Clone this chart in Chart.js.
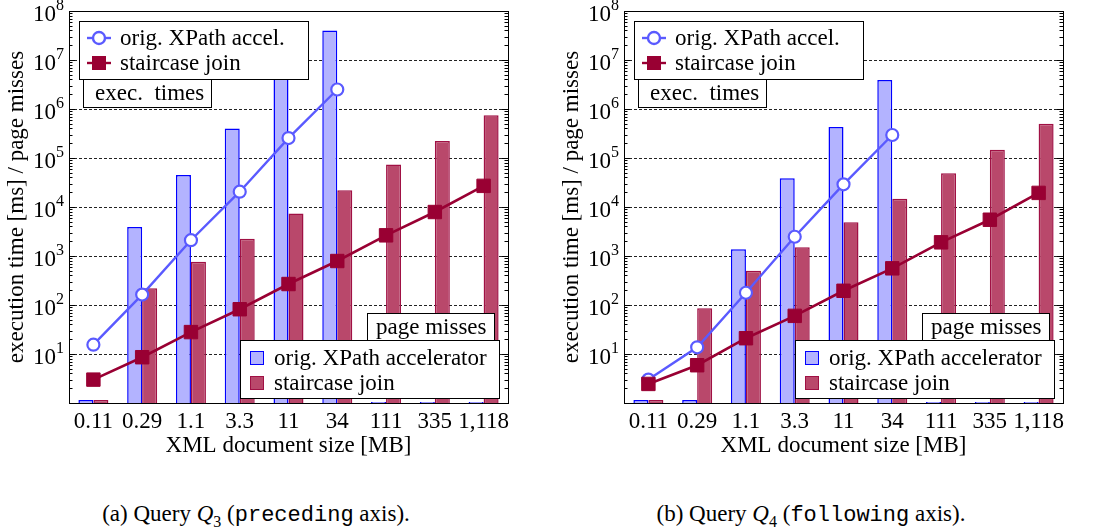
<!DOCTYPE html>
<html>
<head>
<meta charset="utf-8">
<script src="https://cdn.jsdelivr.net/npm/chart.js@4.4.1/dist/chart.umd.min.js"></script>
<style>
  body { margin: 0; background: #fff; }
  #wrap { position: relative; width: 1100px; height: 527px; overflow: hidden; background: #fff; }
  canvas { position: absolute; top: 0; }
  .caption { position: absolute; top: 501px; font: 23px "Liberation Serif", serif; color: #000; white-space: nowrap; transform: translateX(-50%); }
  .caption sub { font-size: 16px; }
  .tt { font-family: "Liberation Mono", monospace; font-size: 22px; }
</style>
</head>
<body>
<div id="wrap">
  <canvas id="chartQ3" width="550" height="460" style="left:0"></canvas>
  <canvas id="chartQ4" width="545" height="460" style="left:555px"></canvas>
  <div class="caption" style="left:256px">(a) Query <i>Q</i><sub>3</sub> (<span class="tt">preceding</span> axis).</div>
  <div class="caption" style="left:811px">(b) Query <i>Q</i><sub>4</sub> (<span class="tt">following</span> axis).</div>
</div>
<script>
// XML document sizes [MB]
const sizes = ["0.11", "0.29", "1.1", "3.3", "11", "34", "111", "335", "1,118"];
const gridDecades = [1e1, 1e2, 1e3, 1e4, 1e5, 1e6, 1e7];
const labelExponents = [1, 2, 3, 4, 5, 6, 7, 8];

// (a) Q3, preceding axis
const q3XpathPages = [1.15, 3900, 45000, 400000, 4.4e6, 4.0e7, 1.05, 1.05, 1.05];
const q3StairPages = [1.15, 220, 760, 2240, 7400, 22000, 74000, 222000, 745000];
const q3XpathTime = [15.5, 163, 2100, 20500, 255000, 2.5e6, null, null, null];
const q3StairTime = [3, 8.6, 28, 82, 268, 790, 2640, 7900, 27000];

// (b) Q4, following axis
const q4XpathPages = [1.15, 1.15, 1370, 38600, 430000, 3.9e6, 1.05, 1.05, 1.05];
const q4StairPages = [1.15, 86, 500, 1500, 4900, 14800, 49000, 148000, 500000];
const q4XpathTime = [3, 13.7, 178, 2470, 29000, 295000, null, null, null];
const q4StairTime = [2.45, 5.9, 21, 60, 195, 560, 1900, 5500, 19400];

const SERIF = '"Liberation Serif", serif';
const FS = 23;
const blueLine = "#5a5aff";
const blueBarFill = "#b3b3ff";
const blueBarEdge = "#0000ff";
const redLine = "#990033";
const redBarFill = "#b9486b";
const redBarEdge = "#a01044";

function box(ctx, x0, y0, x1, y1) {
    ctx.fillStyle = "#fff";
    ctx.fillRect(x0, y0, x1 - x0, y1 - y0);
    ctx.strokeRect(x0 + 0.5, y0 + 0.5, x1 - x0, y1 - y0);
}

// frame, log minor ticks, 10^n labels and the boxed legends
const paperFrame = {
    id: "paperFrame",
    afterDatasetsDraw(chart) {
        const { ctx, chartArea: a, scales: { y } } = chart;
        const L = Math.round(a.left), R = Math.round(a.right);
        const T = Math.round(a.top), B = Math.round(a.bottom);
        ctx.save();
        ctx.strokeStyle = "#000";
        ctx.lineWidth = 1;

        ctx.beginPath();
        for (let d = 0; d < 8; d++) {
            for (let m = 1; m <= 9; m++) {
                if (d === 0 && m === 1) continue;
                const py = Math.round(y.getPixelForValue(m * Math.pow(10, d))) + 0.5;
                const len = m === 1 ? 6 : 3.5;
                ctx.moveTo(L, py); ctx.lineTo(L + len, py);
                ctx.moveTo(R, py); ctx.lineTo(R - len, py);
            }
        }
        ctx.stroke();
        ctx.strokeRect(L + 0.5, T + 0.5, R - L, B - T);

        // y tick labels
        ctx.fillStyle = "#000";
        ctx.textBaseline = "alphabetic";
        labelExponents.forEach(e => {
            const gy = y.getPixelForValue(Math.pow(10, e));
            ctx.font = "16px " + SERIF;
            const ws = ctx.measureText(String(e)).width;
            ctx.textAlign = "left";
            ctx.fillText(String(e), L - 5 - ws, gy - 1);
            ctx.font = FS + "px " + SERIF;
            ctx.textAlign = "right";
            ctx.fillText("10", L - 5 - ws, gy + 10);
        });

        // y title
        ctx.save();
        ctx.translate(17, (T + B) / 2);
        ctx.rotate(-Math.PI / 2);
        ctx.textAlign = "center";
        ctx.textBaseline = "middle";
        ctx.font = FS + "px " + SERIF;
        ctx.fillText("execution time [ms] / page misses", 0, 0);
        ctx.restore();

        ctx.font = FS + "px " + SERIF;
        ctx.textAlign = "left";
        ctx.textBaseline = "middle";

        // exec. times legend
        box(ctx, L + 14, T + 68, L + 142, T + 96);
        box(ctx, L + 10, T + 10, L + 239, T + 68);
        ctx.fillStyle = "#000";
        ctx.fillText("exec.  times", L + 26, T + 83);
        const r1 = T + 27, r2 = T + 52;
        ctx.lineWidth = 2.4;
        ctx.strokeStyle = blueLine;
        ctx.beginPath(); ctx.moveTo(L + 18, r1); ctx.lineTo(L + 42, r1); ctx.stroke();
        ctx.fillStyle = "#fff";
        ctx.beginPath(); ctx.arc(L + 30, r1, 6, 0, Math.PI * 2); ctx.fill(); ctx.stroke();
        ctx.strokeStyle = redLine;
        ctx.beginPath(); ctx.moveTo(L + 18, r2); ctx.lineTo(L + 42, r2); ctx.stroke();
        ctx.fillStyle = redLine;
        ctx.fillRect(L + 23, r2 - 7, 14, 14);
        ctx.fillStyle = "#000";
        ctx.fillText("orig. XPath accel.", L + 51, r1 + 1);
        ctx.fillText("staircase join", L + 51, r2 + 1);

        // page misses legend
        ctx.lineWidth = 1;
        ctx.strokeStyle = "#000";
        box(ctx, R - 141, B - 90, R - 14, B - 63);
        box(ctx, R - 268, B - 63, R - 9, B - 5);
        ctx.fillStyle = "#000";
        ctx.fillText("page misses", R - 132, B - 75);
        const s1 = B - 45, s2 = B - 20;
        ctx.fillStyle = blueBarFill; ctx.strokeStyle = blueBarEdge;
        ctx.fillRect(R - 258, s1 - 7, 14, 14); ctx.strokeRect(R - 257.5, s1 - 6.5, 13, 13);
        ctx.fillStyle = redBarFill; ctx.strokeStyle = redBarEdge;
        ctx.fillRect(R - 258, s2 - 7, 14, 14); ctx.strokeRect(R - 257.5, s2 - 6.5, 13, 13);
        ctx.fillStyle = "#000";
        ctx.fillText("orig. XPath accelerator", R - 234, s1 + 1);
        ctx.fillText("staircase join", R - 234, s2 + 1);
        ctx.restore();
    }
};

function makeChart(id, xpathPages, stairPages, xpathTime, stairTime, padRight) {
    return new Chart(document.getElementById(id), {
        type: "bar",
        data: {
            labels: sizes,
            datasets: [
                {
                    type: "line",
                    label: "staircase join",
                    data: stairTime,
                    borderColor: redLine,
                    backgroundColor: redLine,
                    borderWidth: 2.6,
                    pointStyle: "rect",
                    pointRadius: 9.5,
                    pointBorderWidth: 1,
                    tension: 0,
                    order: 0
                },
                {
                    type: "line",
                    label: "orig. XPath accel.",
                    data: xpathTime,
                    borderColor: blueLine,
                    backgroundColor: "#fff",
                    borderWidth: 2.4,
                    pointRadius: 6,
                    pointBorderWidth: 2.2,
                    tension: 0,
                    order: 1
                },
                {
                    label: "orig. XPath accelerator",
                    data: xpathPages,
                    backgroundColor: blueBarFill,
                    borderColor: blueBarEdge,
                    borderWidth: 1.5,
                    categoryPercentage: 0.615,
                    barPercentage: 1,
                    order: 2
                },
                {
                    label: "staircase join",
                    data: stairPages,
                    backgroundColor: redBarFill,
                    borderColor: redBarEdge,
                    borderWidth: 1.5,
                    categoryPercentage: 0.615,
                    barPercentage: 1,
                    order: 2
                }
            ]
        },
        options: {
            responsive: false,
            animation: false,
            layout: { padding: { top: 11, right: padRight, left: 0, bottom: 0 } },
            plugins: { legend: { display: false }, tooltip: { enabled: false } },
            scales: {
                x: {
                    grid: { display: false },
                    border: { display: false },
                    ticks: {
                        color: "#000",
                        font: { family: SERIF, size: FS },
                        maxRotation: 0,
                        autoSkip: false,
                        padding: -3
                    },
                    title: {
                        display: true,
                        text: "XML document size [MB]",
                        color: "#000",
                        font: { family: SERIF, size: FS },
                        padding: 0
                    },
                    afterFit: s => { s.height = 57; }
                },
                y: {
                    type: "logarithmic",
                    min: 1,
                    max: 1e8,
                    ticks: { display: false },
                    grid: { color: "#222", lineWidth: 1, drawTicks: false },
                    border: { display: false, dash: [3, 2] },
                    afterBuildTicks: s => { s.ticks = gridDecades.map(v => ({ value: v })); },
                    afterFit: s => { s.width = 69; }
                }
            }
        },
        plugins: [paperFrame]
    });
}

makeChart("chartQ3", q3XpathPages, q3StairPages, q3XpathTime, q3StairTime, 42);
makeChart("chartQ4", q4XpathPages, q4StairPages, q4XpathTime, q4StairTime, 37);
</script>
</body>
</html>
